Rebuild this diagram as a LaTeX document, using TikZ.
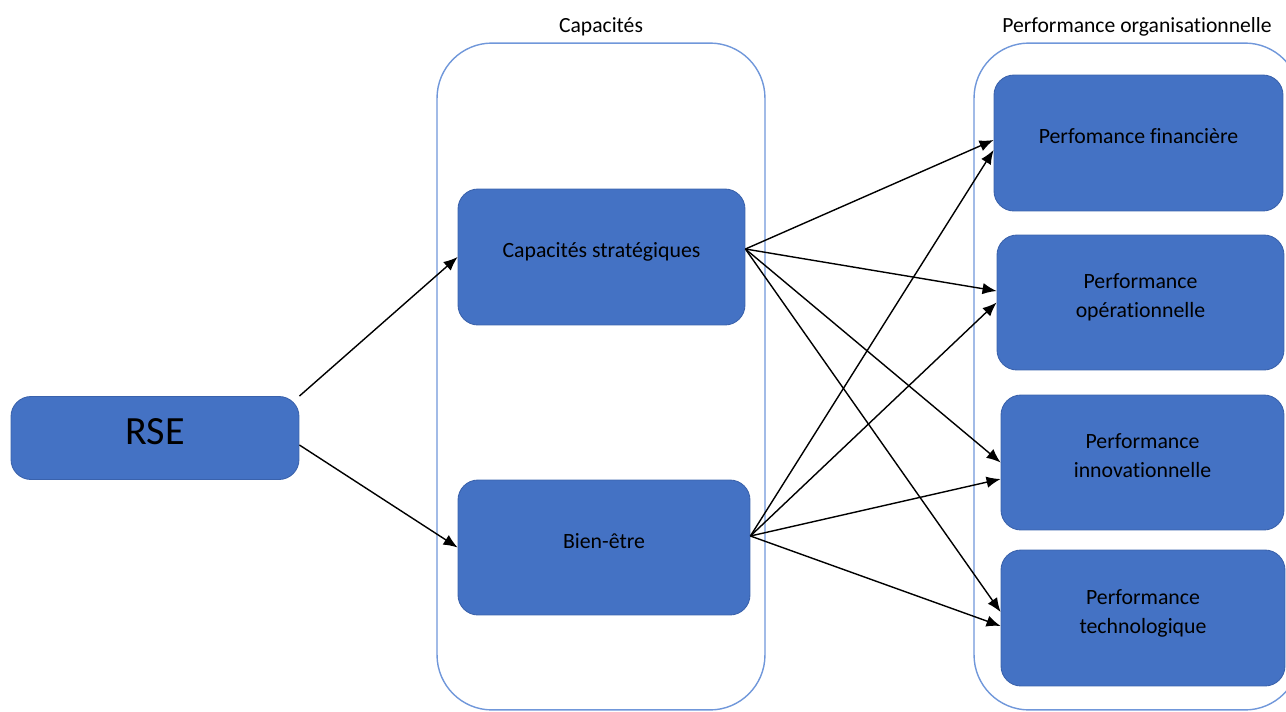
\documentclass[tikz,border=0pt]{standalone}
\usepackage{fontspec}
\setmainfont{Carlito}[Ligatures=NoCommon]
\usetikzlibrary{positioning,arrows.meta}

\definecolor{boxblue}{HTML}{4472C4}
\definecolor{boxedge}{HTML}{3A62AC}
\definecolor{groupline}{HTML}{7097DA}

\tikzstyle{group} = [
    rectangle, rounded corners=1.1cm,
    draw=groupline, line width=0.8pt
]
% text sits a little above the middle of each box
\tikzstyle{block} = [
    rectangle, rounded corners=0.4cm,
    fill=boxblue, draw=boxedge, line width=0.5pt,
    text centered, align=center,
    font=\fontsize{12.4}{16.5}\selectfont,
    execute at end node={\rule[-0.27cm]{0pt}{0pt}}
]
\tikzstyle{title} = [font=\fontsize{12.3}{14}\selectfont]
\tikzstyle{arrow} = [line width=0.8pt, -{Latex[length=8pt,width=6.5pt]}]

\begin{document}
\begin{tikzpicture}[x=0.02cm, y=-0.02cm]
    \clip (0,0) rectangle (1286,711);

    % the two groups
    \node (capbox) [group, minimum width=6.56cm, minimum height=13.34cm] at (601,376.5) {};
    \node (perfbox) [group, minimum width=6.52cm, minimum height=13.34cm] at (1137,376.5) {};
    \node (captitle) [title, above=0pt of capbox] {Capacités};
    \node (perftitle) [title, above=0pt of perfbox] {Performance organisationnelle};

    \node (rse) [block, minimum width=5.76cm, minimum height=1.66cm,
        font=\fontsize{22.8}{26}\selectfont] at (155,438) {RSE};

    \node (cs) [block, minimum width=5.74cm, minimum height=2.72cm] at (601.5,257) {Capacités stratégiques};
    \node (be) [block, minimum width=5.84cm, minimum height=2.7cm] at (604,547.5) {Bien-être};

    \node (pf) [block, minimum width=5.78cm, minimum height=2.72cm] at (1138.5,143) {Perfomance financière};
    \node (po) [block, minimum width=5.74cm, minimum height=2.7cm] at (1140.5,302.5) {Performance\\opérationnelle};
    \node (pi) [block, minimum width=5.66cm, minimum height=2.7cm] at (1142.5,462.5) {Performance\\innovationnelle};
    \node (pt) [block, minimum width=5.68cm, minimum height=2.72cm] at (1143,618) {Performance\\technologique};

    \draw [arrow] (rse.north east) -- (cs.west);
    \draw [arrow] ([yshift=-0.14cm]rse.east) -- (be.west);

    \draw [arrow] ([yshift=0.16cm]cs.east) -- ([yshift=0.06cm]pf.west);
    \draw [arrow] ([yshift=0.16cm]cs.east) -- ([yshift=0.23cm]po.west);
    \draw [arrow] ([yshift=0.16cm]cs.east) -- (pi.west);
    \draw [arrow] ([yshift=0.16cm]cs.east) -- ([yshift=0.12cm]pt.west);

    \draw [arrow] ([yshift=0.23cm]be.east) -- ([yshift=-0.14cm]pf.west);
    \draw [arrow] ([yshift=0.23cm]be.east) -- (po.west);
    \draw [arrow] ([yshift=0.23cm]be.east) -- ([yshift=-0.33cm]pi.west);
    \draw [arrow] ([yshift=0.23cm]be.east) -- ([yshift=-0.16cm]pt.west);
\end{tikzpicture}
\end{document}
